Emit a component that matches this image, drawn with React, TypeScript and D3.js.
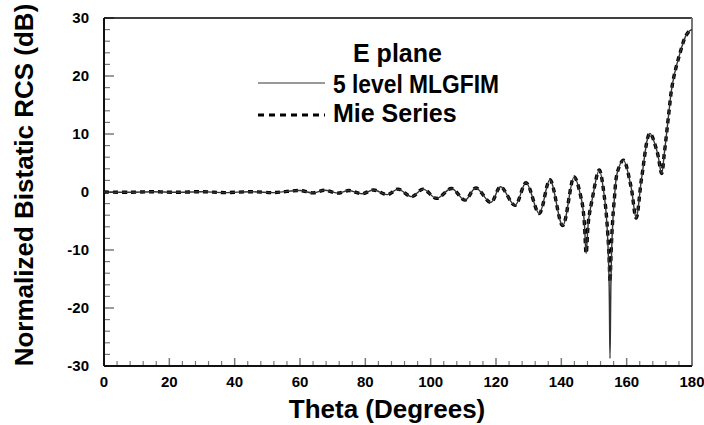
import React from "react";
import * as d3 from "d3";

const theta = [0, 8, 15, 22, 30, 37, 45, 52, 56, 60, 64, 67.5, 71.5, 75, 79, 82.5, 86.8, 90, 94.2, 97.7, 101.8, 106.4, 110.5, 113.8, 118.4, 121.4, 125.8, 129.2, 133.2, 136.5, 140.4, 143.9, 146.2, 147.0, 147.6, 148.3, 149.4, 151.6, 153.3, 154.0, 154.6, 154.9, 155.2, 155.6, 156.2, 157.2, 159, 161.3, 162.9, 164.6, 167.1, 169.3, 170.7, 171.5, 172.3, 173.0, 173.7, 174.7, 176.3, 178, 179.3, 180];

const mlgfim = [0, -0.05, 0.05, -0.05, 0.05, -0.1, 0.05, -0.1, 0.1, 0.25, -0.15, 0.3, -0.2, 0.25, -0.3, 0.35, -0.45, 0.5, -0.8, 0.5, -1.1, 0.6, -1.4, 0.7, -1.8, 0.9, -2.3, 1.6, -3.7, 2.1, -5.8, 2.6, -1.4, -5, -10.6, -5, -1.4, 3.8, -1.4, -6, -15, -28.7, -15, -7, -1.4, 3.5, 5.5, 1.0, -4.5, 2.5, 10.1, 7.0, 3.2, 6.5, 10.5, 14.1, 17.5, 20.5, 23.9, 26.8, 27.8, 28];

const mie = [0, -0.05, 0.05, -0.05, 0.05, -0.1, 0.05, -0.1, 0.1, 0.25, -0.15, 0.3, -0.2, 0.25, -0.3, 0.35, -0.45, 0.5, -0.8, 0.5, -1.1, 0.6, -1.4, 0.7, -1.8, 0.9, -2.3, 1.6, -3.7, 2.1, -5.8, 2.6, -1.4, -5, -10.6, -5, -1.4, 3.8, -1.4, -5.5, -11, -15.5, -11, -6, -1.4, 3.5, 5.5, 1.0, -4.5, 2.5, 10.1, 7.0, 3.2, 6.5, 10.5, 14.1, 17.5, 20.5, 23.9, 26.8, 27.8, 28];

const xMajorTicks = [0, 20, 40, 60, 80, 100, 120, 140, 160, 180];
const yMajorTicks = [-30, -20, -10, 0, 10, 20, 30];
const xMinorStep = 4;
const yMinorStep = 2;

const legendTitle = "E plane";
const seriesNames = ["5 level MLGFIM", "Mie Series"];
const xTitle = "Theta (Degrees)";
const yTitle = "Normalized Bistatic RCS (dB)";

const FONT = "'Liberation Sans', Arial, Helvetica, sans-serif";

export default function App() {
  const left = 104, right = 692, top = 18, bottom = 366;
  const x = d3.scaleLinear().domain([0, 180]).range([left, right]);
  const y = d3.scaleLinear().domain([-30, 30]).range([bottom, top]);

  const line = d3
    .line<number>()
    .x((_, i) => x(theta[i]))
    .y((d) => y(d))
    .curve(d3.curveCatmullRom.alpha(0.5));

  const xMinor = d3.range(0, 180.001, xMinorStep).filter((v) => v % 20 !== 0);
  const yMinor = d3.range(-30, 30.001, yMinorStep).filter((v) => v % 10 !== 0);

  const tickColor = "#7a7a7a";

  return (
    <svg width={704} height={425} style={{ position: "absolute", left: 0, top: 0, background: "#fff" }}>
      <rect x={0} y={0} width={704} height={425} fill="#fff" />
      {yMajorTicks.map((t) => (
        <line key={"ym" + t} x1={left} x2={left + 10} y1={y(t)} y2={y(t)} stroke={tickColor} strokeWidth={1.5} />
      ))}
      {yMinor.map((t) => (
        <line key={"yn" + t} x1={left} x2={left + 6} y1={y(t)} y2={y(t)} stroke={tickColor} strokeWidth={1.2} />
      ))}
      {xMajorTicks.map((t) => (
        <line key={"xm" + t} x1={x(t)} x2={x(t)} y1={bottom} y2={bottom - 8} stroke={tickColor} strokeWidth={1.5} />
      ))}
      {xMinor.map((t) => (
        <line key={"xn" + t} x1={x(t)} x2={x(t)} y1={bottom} y2={bottom - 5} stroke={tickColor} strokeWidth={1.2} />
      ))}
      <line x1={left} x2={right} y1={top} y2={top} stroke="#000" strokeWidth={1.5} />
      <line x1={right} x2={right} y1={top} y2={bottom} stroke="#777" strokeWidth={2} />
      <line x1={left} x2={left} y1={top} y2={bottom} stroke="#111" strokeWidth={2} />
      <line x1={left} x2={right} y1={bottom} y2={bottom} stroke="#111" strokeWidth={2} />

      {yMajorTicks.map((t) => (
        <text key={"yl" + t} x={89} y={y(t)} dy="0.36em" textAnchor="end" fontFamily={FONT} fontWeight="bold" fontSize={15} fill="#000">
          {t}
        </text>
      ))}
      {xMajorTicks.map((t) => (
        <text key={"xl" + t} x={x(t)} y={387} textAnchor="middle" fontFamily={FONT} fontWeight="bold" fontSize={15} fill="#000">
          {t}
        </text>
      ))}

      <text x={387} y={418} textAnchor="middle" fontFamily={FONT} fontWeight="bold" fontSize={26} fill="#000">
        {xTitle}
      </text>
      <text transform={`translate(33,185) rotate(-90)`} textAnchor="middle" fontFamily={FONT} fontWeight="bold" fontSize={26} fill="#000">
        {yTitle}
      </text>

      <path d={line(mie) || ""} fill="none" stroke="#000" strokeWidth={3.4} strokeDasharray="5,4" />
      <path d={line(mlgfim) || ""} fill="none" stroke="#333" strokeWidth={1.4} />

      <text x={353} y={62} fontFamily={FONT} fontWeight="bold" fontSize={25} fill="#000">
        {legendTitle}
      </text>
      <line x1={258} x2={325} y1={83} y2={83} stroke="#777" strokeWidth={1.5} />
      <text x={333} y={93} fontFamily={FONT} fontWeight="bold" fontSize={25} fill="#000" textLength={166} lengthAdjust="spacingAndGlyphs">
        {seriesNames[0]}
      </text>
      <line x1={258} x2={325} y1={115} y2={115} stroke="#000" strokeWidth={3} strokeDasharray="6,5" />
      <text x={333} y={122} fontFamily={FONT} fontWeight="bold" fontSize={25} fill="#000">
        {seriesNames[1]}
      </text>
    </svg>
  );
}
